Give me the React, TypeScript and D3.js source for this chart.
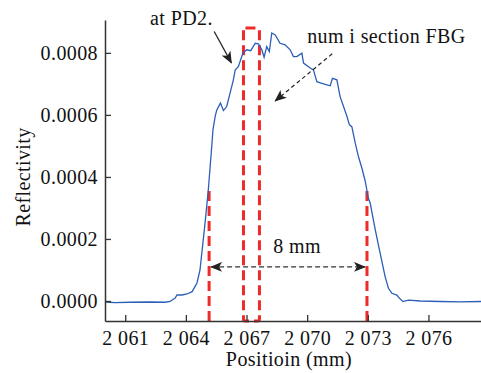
import { useEffect, useRef } from "react";
import * as d3 from "d3";

// position (mm) / reflectivity
const positions = [
  2060.0, 2060.5, 2061.24, 2062.23, 2062.97, 2063.22, 2063.47, 2063.56, 2063.81, 2064.06,
  2064.31, 2064.55, 2064.7, 2064.95, 2065.11, 2065.28, 2065.34, 2065.45, 2065.53, 2065.71,
  2065.86, 2066.02, 2066.19, 2066.35, 2066.44, 2066.6, 2066.82, 2067.01, 2067.21, 2067.43,
  2067.59, 2067.76, 2067.87, 2068.0, 2068.13, 2068.25, 2068.42, 2068.66, 2068.91, 2069.16,
  2069.32, 2069.49, 2069.74, 2069.82, 2070.15, 2070.31, 2070.48, 2070.73, 2070.98, 2071.14,
  2071.25, 2071.47, 2071.63, 2071.8, 2071.97, 2072.09, 2072.21, 2072.38, 2072.54, 2072.71,
  2072.87, 2073.03, 2073.12, 2073.37, 2073.61, 2073.86, 2074.02, 2074.19, 2074.44, 2074.57,
  2074.74, 2075.01, 2075.59, 2076.58, 2077.57, 2078.61,
];
const reflectivity = [
  -0.0000032, -0.000005, -0.000004, -0.0000032, -0.000004, -0.0000016, 0.0000097, 0.0000194, 0.0000194, 0.0000226,
  0.00003, 0.000058, 0.0001, 0.000252, 0.000358, 0.000498, 0.000552, 0.000595, 0.000616, 0.000638,
  0.000614, 0.000627, 0.000671, 0.000713, 0.000745, 0.000756, 0.000799, 0.00081, 0.000807, 0.000831,
  0.000829, 0.00081, 0.000786, 0.00082, 0.000804, 0.000864, 0.000858, 0.000831, 0.000826, 0.00081,
  0.000788, 0.000788, 0.000799, 0.000767, 0.000751, 0.000745, 0.000707, 0.000702, 0.000697, 0.000694,
  0.000718, 0.000713, 0.000659, 0.000627, 0.000595, 0.000568, 0.000562, 0.000509, 0.000465, 0.000428,
  0.000387, 0.000331, 0.000315, 0.000229, 0.000154, 0.000078, 0.000041, 0.000025, 0.000019, 0.0000087,
  -0.000002, 0.000003, 0.0, -0.0000016, -0.000003, -0.0000016,
];

const xTicks = [2061, 2064, 2067, 2070, 2073, 2076];
const yTicks = [0, 0.0002, 0.0004, 0.0006, 0.0008];

// 8 mm marker lines and the PD2 window
const edgeLines = [2065.15, 2072.96];
const edgeTop = 0.000358;
const windowRange = [2066.85, 2067.64];
const windowTop = 0.00088;

export default function App() {
  const svgRef = useRef<SVGSVGElement>(null);
  const width = 481;
  const height = 373;

  useEffect(() => {
    if (!svgRef.current) return;
    const svg = d3.select(svgRef.current);
    svg.selectAll("*").remove();

    const margin = { top: 20, right: 0, bottom: 52, left: 105 };
    const x = d3
      .scaleLinear()
      .domain([2060, 2078.6])
      .range([margin.left, width - margin.right]);
    const y = d3
      .scaleLinear()
      .domain([-0.0000645, 0.000906])
      .range([height - margin.bottom, margin.top]);

    const font = "'Liberation Serif', 'Times New Roman', serif";
    const fontSize = "20px";
    const spacing = "0.4px";
    const axisColor = "#333";

    const label = (sel: d3.Selection<SVGTextElement, unknown, null, undefined>) =>
      sel
        .style("font-family", font)
        .style("font-size", fontSize)
        .style("letter-spacing", spacing)
        .attr("fill", "#111");

    const defs = svg.append("defs");
    defs
      .append("marker")
      .attr("id", "head")
      .attr("viewBox", "0 0 12 10")
      .attr("refX", 11)
      .attr("refY", 5)
      .attr("markerWidth", 12)
      .attr("markerHeight", 10)
      .attr("markerUnits", "userSpaceOnUse")
      .attr("orient", "auto-start-reverse")
      .append("path")
      .attr("d", "M0,0 L12,5 L0,10 L3,5 Z")
      .attr("fill", "#222");

    // red marker lines
    edgeLines.forEach((v) => {
      svg
        .append("line")
        .attr("x1", x(v))
        .attr("x2", x(v))
        .attr("y1", y.range()[0])
        .attr("y2", y(edgeTop))
        .attr("stroke", "#ee2a2a")
        .attr("stroke-width", 3)
        .attr("stroke-dasharray", "10,5");
    });

    svg
      .append("rect")
      .attr("x", x(windowRange[0]))
      .attr("y", y(windowTop))
      .attr("width", x(windowRange[1]) - x(windowRange[0]))
      .attr("height", y.range()[0] - y(windowTop))
      .attr("rx", 2)
      .attr("fill", "none")
      .attr("stroke", "#ee2a2a")
      .attr("stroke-width", 3)
      .attr("stroke-dasharray", "10,5");

    const data = positions.map((p, i) => [p, reflectivity[i]] as [number, number]);
    svg
      .append("path")
      .datum(data)
      .attr("fill", "none")
      .attr("stroke", "#2c5fb6")
      .attr("stroke-width", 1.3)
      .attr("d", d3.line<[number, number]>().x((d) => x(d[0])).y((d) => y(d[1])));

    // axes
    const xAxis = svg
      .append("g")
      .attr("transform", `translate(0,${y.range()[0]})`)
      .call(
        d3
          .axisBottom(x)
          .tickValues(xTicks)
          .tickSizeInner(-6)
          .tickSizeOuter(0)
          .tickPadding(10)
          .tickFormat((d) => {
            const s = String(d);
            return s.slice(0, 1) + " " + s.slice(1);
          })
      );
    const yAxis = svg
      .append("g")
      .attr("transform", `translate(${margin.left},0)`)
      .call(
        d3
          .axisLeft(y)
          .tickValues(yTicks)
          .tickSizeInner(-6)
          .tickSizeOuter(0)
          .tickPadding(7)
          .tickFormat(d3.format(".4f"))
      );
    [xAxis, yAxis].forEach((g) => {
      g.select(".domain").attr("stroke", axisColor).attr("stroke-width", 1.5);
      g.selectAll(".tick line").attr("stroke", axisColor).attr("stroke-width", 1.3);
      g.selectAll("text")
        .attr("fill", "#111")
        .style("font-family", font)
        .style("font-size", fontSize)
        .style("letter-spacing", spacing);
    });

    svg
      .append("text")
      .attr("x", x(2069.1))
      .attr("y", 366)
      .attr("text-anchor", "middle")
      .call(label)
      .text("Positioin (mm)");

    svg
      .append("text")
      .attr("transform", `translate(30,${y(0.0004)}) rotate(-90)`)
      .attr("text-anchor", "middle")
      .call(label)
      .text("Reflectivity");

    // annotations
    svg
      .append("text")
      .attr("x", x(2062.23))
      .attr("y", y(0.00089))
      .call(label)
      .text("at PD2.");
    svg
      .append("line")
      .attr("x1", x(2065.4))
      .attr("y1", y(0.000869))
      .attr("x2", x(2066.25))
      .attr("y2", y(0.000768))
      .attr("stroke", "#222")
      .attr("stroke-width", 1.3)
      .attr("marker-end", "url(#head)");

    svg
      .append("text")
      .attr("x", x(2070.0))
      .attr("y", y(0.000832))
      .call(label)
      .text("num i section FBG");
    svg
      .append("line")
      .attr("x1", x(2071.24))
      .attr("y1", y(0.000797))
      .attr("x2", x(2068.42))
      .attr("y2", y(0.000645))
      .attr("stroke", "#222")
      .attr("stroke-width", 1.2)
      .attr("stroke-dasharray", "4,3")
      .attr("marker-end", "url(#head)");

    svg
      .append("line")
      .attr("x1", x(edgeLines[0]) + 2)
      .attr("x2", x(edgeLines[1]) - 2)
      .attr("y1", y(0.00011))
      .attr("y2", y(0.00011))
      .attr("stroke", "#333")
      .attr("stroke-width", 1.3)
      .attr("stroke-dasharray", "5,3")
      .attr("marker-start", "url(#head)")
      .attr("marker-end", "url(#head)");
    svg
      .append("text")
      .attr("x", x(2069.5))
      .attr("y", y(0.000155))
      .attr("text-anchor", "middle")
      .call(label)
      .text("8 mm");
  }, []);

  return (
    <svg
      ref={svgRef}
      width={width}
      height={height}
      style={{ position: "absolute", left: 0, top: 0, background: "#fff" }}
    />
  );
}
